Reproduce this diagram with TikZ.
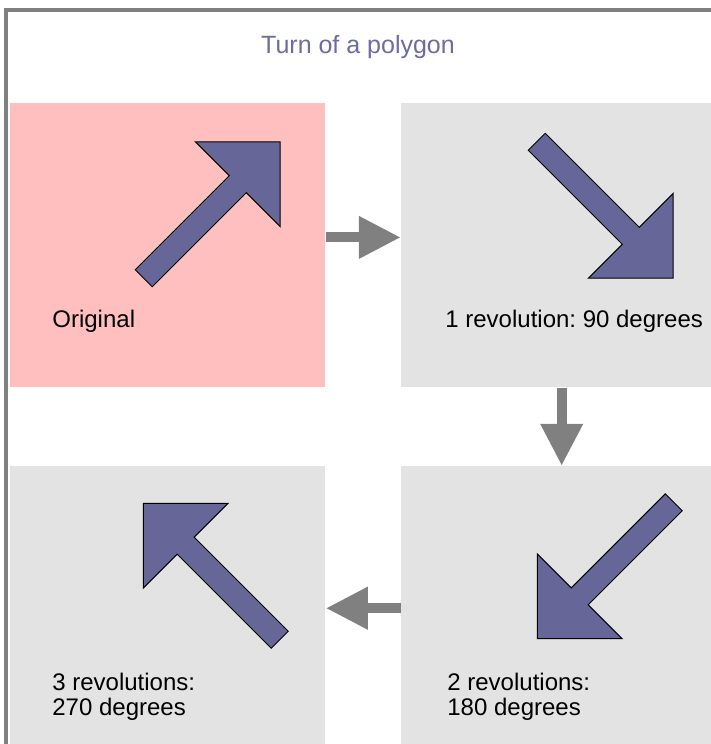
\documentclass[tikz,border=0pt]{standalone}
\usepackage{fontspec}
\setmainfont{Liberation Sans}
\frenchspacing
\usetikzlibrary{arrows.meta, positioning, calc}

\definecolor{panelpink}{RGB}{255,191,191}
\definecolor{panelgray}{RGB}{227,227,227}
\definecolor{polyblue}{RGB}{102,102,153}
\definecolor{titleblue}{RGB}{108,108,160}

\begin{document}
\begin{tikzpicture}[
        x=0.5pt, y=-0.5pt,
        font=\fontsize{12}{12.5}\selectfont,
        >={Triangle[length=21pt, width=20pt]},
        panel/.style={minimum width=157.5pt, minimum height=142pt, inner sep=0pt, fill=panelgray},
        lbl/.style={anchor=base west, align=left, inner sep=0pt},
        flow/.style={->, line width=5pt, draw=gray},
        turnarrow/.pic={
            \draw[fill=polyblue, draw=black, line width=0.5pt, line join=miter]
                (-96.5,-12) -- (36.5,-12) -- (36.5,-60) -- (96.5,0)
                -- (36.5,60) -- (36.5,12) -- (-96.5,12) -- cycle;
        }
    ]
        \useasboundingbox (0,0) rectangle (711,744);
        \clip (0,0) rectangle (711,744);
        \fill[white] (0,0) rectangle (711,744);

        % --- frame and title ---
        \draw[gray, line width=2pt, line join=miter] (6,760) -- (6,10) -- (730,10);
        \node[text=titleblue, font=\fontsize{12.5}{15}\selectfont] (title) at (358,47) {Turn of a polygon};

        % --- the four panels ---
        \node[panel, fill=panelpink, anchor=north west] (orig) at (10,103) {};
        \node[panel, right=37.5pt of orig] (rev1) {};
        \node[panel, below=39pt of rev1] (rev2) {};
        \node[panel, left=37.5pt of rev2] (rev3) {};

        % --- polygon in each position ---
        \pic[rotate=45] at (212,210) {turnarrow};
        \pic[rotate=-45] at (605,210) {turnarrow};
        \pic[rotate=-135] at (605.5,570.5) {turnarrow};
        \pic[rotate=135] at (211.5,571.5) {turnarrow};

        % base of a two-line node sits on its last line
        \node[lbl] (origlbl) at (52,327) {Original};
        \node[lbl] (rev1lbl) at (445,327) {1 revolution: 90 degrees};
        \node[lbl] (rev2lbl) at (447,715) {2 revolutions:\\180 degrees};
        \node[lbl] (rev3lbl) at (52,715) {3 revolutions:\\270 degrees};

        % --- order of the turns ---
        \draw[flow] ([yshift=4pt]orig.east) -- ([yshift=4pt]rev1.west);
        \draw[flow] ([xshift=1.5pt]rev1.south) -- ([xshift=1.5pt]rev2.north);
        \draw[flow] (rev2.west) -- (rev3.east);
    \end{tikzpicture}
\end{document}
